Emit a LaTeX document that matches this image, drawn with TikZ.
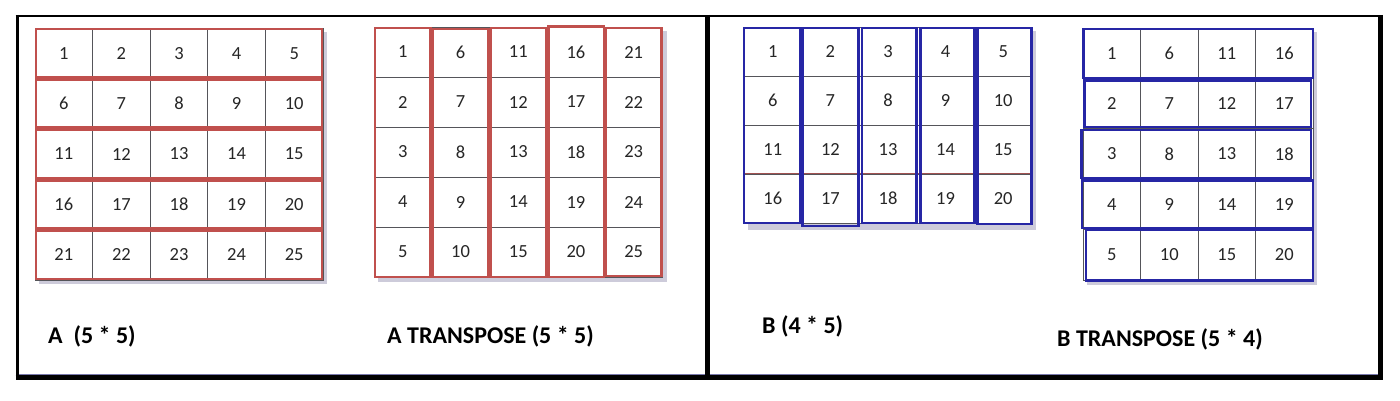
\documentclass[tikz,border=0pt]{standalone}
\usepackage{fontspec}
\setmainfont{Carlito}
\definecolor{mred}{RGB}{192,80,77}
\definecolor{mblue}{RGB}{38,38,165}
\definecolor{gridc}{RGB}{85,85,90}
\definecolor{shad}{RGB}{205,203,218}
\definecolor{lav}{RGB}{120,120,170}
\tikzset{
  cell/.style={draw=gridc, line width=0.9pt, fill=white, inner sep=0pt, text=black!85, font=\fontsize{18.5}{18.5}\selectfont},
  redbox/.style={draw=mred, line width=2.4pt},
  bluebox/.style={draw=mblue, line width=2.4pt},
  shadowbox/.style={fill=shad, draw=none},
  lbl/.style={anchor=base west, inner sep=0pt, font=\fontsize{24}{24}\selectfont\bfseries},
  frame/.style={draw=black}
}
\begin{document}
\begin{tikzpicture}[x=1pt,y=-1pt]
\useasboundingbox (0,0) rectangle (1400,401);
\fill[white] (0,0) rectangle (1400,401);

% ---------- frame ----------
\draw[lav, line width=1pt] (19,374) -- (1378,374);
\draw[frame, line width=2.5pt] (15.5,16) -- (1383,16);
\draw[frame, line width=5pt] (15.5,377) -- (1383,377);
\draw[frame, line width=3.5pt] (17.5,15) -- (17.5,379.5);
\draw[frame, line width=5pt] (1380.5,15) -- (1380.5,379.5);
\draw[frame, line width=4.5pt] (707.5,15) -- (707.5,377);

% ---------- shadows ----------
\fill[shadowbox] (39,32) rectangle (327,284);
\fill[shadowbox] (378,31) rectangle (667,282);
\fill[shadowbox] (748,31) rectangle (1036,230);
\fill[shadowbox] (1087,32) rectangle (1317,285);

% ---------- matrix A (5x5) ----------
\foreach \r in {0,...,4}{
  \foreach \c in {0,...,4}{
    \pgfmathtruncatemacro\n{\r*5+\c+1}
    \node[cell, minimum width=57.6pt, minimum height=50.4pt] (A-\r-\c)
      at ({35+(\c+0.5)*57.6},{28+(\r+0.5)*50.4}) {\n};
  }
}
\foreach \r in {0,...,4}{
  \draw[redbox] (36.2,{28+\r*50.4+1.2}) rectangle (322,{28+(\r+1)*50.4-1.2});
}

% ---------- matrix A transpose (5x5) ----------
\foreach \r in {0,...,4}{
  \foreach \c in {0,...,4}{
    \pgfmathtruncatemacro\n{\c*5+\r+1}
    \node[cell, minimum width=57.7pt, minimum height=50pt] (AT-\r-\c)
      at ({374+(\c+0.5)*57.7},{27+(\r+0.5)*50}) {\n};
  }
}
\draw[redbox] (375.2,28.2) rectangle (430.6,277);
\draw[redbox] (433,29) rectangle (488.3,277);
\draw[redbox] (490.8,28.2) rectangle (546,277);
\draw[redbox] (548.5,26.5) rectangle (603.7,277);
\draw[redbox] (606.2,28.2) rectangle (661.6,276);

% ---------- matrix B (4x5) ----------
\foreach \r in {0,...,3}{
  \foreach \c in {0,...,4}{
    \pgfmathtruncatemacro\n{\r*5+\c+1}
    \node[cell, minimum width=57.6pt, minimum height=49pt] (B-\r-\c)
      at ({744+(\c+0.5)*57.6},{27+(\r+0.5)*49}) {\n};
  }
}
\draw[mred!70!gridc, line width=0.9pt] (B-3-0.north west) -- (B-3-4.north east);
\draw[bluebox] (744.2,28.2) rectangle (800.6,223);
\draw[bluebox] (802.4,28.2) rectangle (858.4,226);
\draw[bluebox] (862,28.2) rectangle (916.6,223);
\draw[bluebox] (920.4,28.2) rectangle (974.6,223);
\draw[bluebox] (977.5,28.2) rectangle (1031.4,224);

% ---------- matrix B transpose (5x4) ----------
\foreach \r in {0,...,4}{
  \foreach \c in {0,...,3}{
    \pgfmathtruncatemacro\n{\c*5+\r+1}
    \node[cell, minimum width=57.5pt, minimum height=50.4pt] (BT-\r-\c)
      at ({1083+(\c+0.5)*57.5},{28+(\r+0.5)*50.4}) {\n};
  }
}
\draw[bluebox] (1083.5,29) rectangle (1313,78);
\draw[bluebox] (1084.5,80.5) rectangle (1311,127);
\draw[bluebox] (1081.5,130) rectangle (1311,178);
\draw[bluebox] (1082,180.5) rectangle (1313,228);
\draw[bluebox] (1086,230) rectangle (1313,280.5);

% ---------- labels ----------
\node[lbl] (labA) at (48,343) {A\ \ (5 * 5)};
\node[lbl] (labAT) at (387,343) {A TRANSPOSE (5 * 5)};
\node[lbl] (labB) at (762,333) {B (4 * 5)};
\node[lbl] (labBT) at (1057,346) {B TRANSPOSE (5 * 4)};
\end{tikzpicture}
\end{document}
